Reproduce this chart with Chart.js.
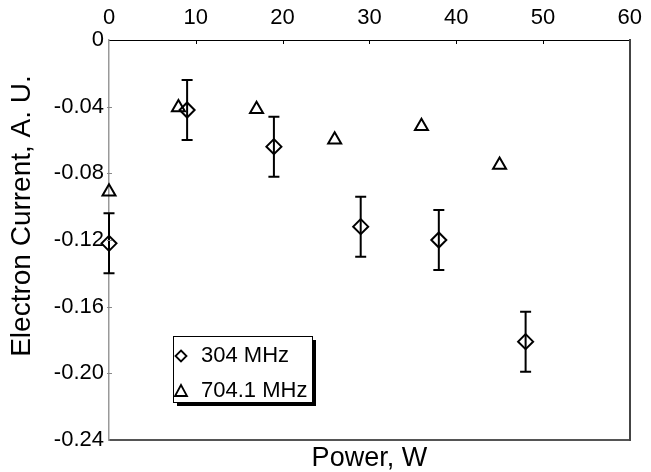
<!DOCTYPE html>
<html>
<head>
<meta charset="utf-8">
<script src="https://cdn.jsdelivr.net/npm/chart.js@4.4.1/dist/chart.umd.min.js"></script>
<style>
  html, body { margin: 0; padding: 0; background: #ffffff; }
  #wrap { width: 651px; height: 472px; }
</style>
</head>
<body>
<div id="wrap"><canvas id="c" width="651" height="472"></canvas></div>
<script>
// ---- data ----
const power304 = [0, 9, 19, 29, 38, 48];
const current304 = [-0.122, -0.042, -0.064, -0.112, -0.120, -0.181];
const error304 = [0.018, 0.018, 0.018, 0.018, 0.018, 0.018];

const power704 = [0, 8, 17, 26, 36, 45];
const current704 = [-0.091, -0.0405, -0.0416, -0.0598, -0.0518, -0.075];

const xTickValues = [0, 10, 20, 30, 40, 50, 60];
const yTickValues = [0, -0.04, -0.08, -0.12, -0.16, -0.20, -0.24];
const yTickLabels = ['0', '-0.04', '-0.08', '-0.12', '-0.16', '-0.20', '-0.24'];

const seriesLabels = ['304 MHz', '704.1 MHz'];
const xTitle = 'Power, W';
const yTitle = 'Electron Current, A. U.';

const FONT = "'Liberation Sans', Arial, Helvetica, sans-serif";
Chart.defaults.font.family = FONT;
Chart.defaults.color = '#000';

const pts304 = power304.map((p, i) => ({ x: p, y: current304[i] }));
const pts704 = power704.map((p, i) => ({ x: p, y: current704[i] }));

// error bars
const errorBarPlugin = {
  id: 'errorBars',
  afterDatasetsDraw(chart) {
    const ctx = chart.ctx;
    const xs = chart.scales.x, ys = chart.scales.y;
    ctx.save();
    ctx.strokeStyle = '#000';
    ctx.lineWidth = 2;
    power304.forEach((p, i) => {
      const px = xs.getPixelForValue(p);
      const yTop = ys.getPixelForValue(current304[i] + error304[i]);
      const yBot = ys.getPixelForValue(current304[i] - error304[i]);
      const cap = 5.5;
      ctx.beginPath();
      ctx.moveTo(px, yTop); ctx.lineTo(px, yBot);
      ctx.moveTo(px - cap, yTop); ctx.lineTo(px + cap, yTop);
      ctx.moveTo(px - cap, yBot); ctx.lineTo(px + cap, yBot);
      ctx.stroke();
    });
    ctx.restore();
  }
};

// inner tick marks + y axis title
const axisExtrasPlugin = {
  id: 'axisExtras',
  afterDraw(chart) {
    const ctx = chart.ctx;
    const xs = chart.scales.x, ys = chart.scales.y;
    const a = chart.chartArea;
    ctx.save();
    ctx.lineWidth = 1;
    ctx.strokeStyle = '#000';
    ctx.beginPath();
    xTickValues.forEach(v => {
      if (v === xs.min || v === xs.max) return;
      const px = Math.round(xs.getPixelForValue(v)) + 0.5;
      ctx.moveTo(px, a.top); ctx.lineTo(px, a.top + 4);
    });
    ctx.stroke();
    ctx.strokeStyle = '#888';
    ctx.beginPath();
    yTickValues.forEach(v => {
      if (v === ys.min || v === ys.max) return;
      const py = Math.round(ys.getPixelForValue(v)) + 0.5;
      ctx.moveTo(a.left - 2, py); ctx.lineTo(a.left + 3, py);
    });
    ctx.stroke();

    // y-axis title (sits a little above the middle of the axis, as in the reference)
    ctx.translate(22, (a.top + a.bottom) / 2 - 24);
    ctx.rotate(-Math.PI / 2);
    ctx.font = '28px ' + FONT;
    ctx.fillStyle = '#000';
    ctx.textAlign = 'center';
    ctx.textBaseline = 'middle';
    ctx.fillText(yTitle, 0, 0);
    ctx.restore();
  }
};

// boxed legend with shadow
const boxLegendPlugin = {
  id: 'boxLegend',
  afterDraw(chart) {
    const ctx = chart.ctx;
    const a = chart.chartArea;
    const bx = a.left + 64, by = a.bottom - 104, bw = 139, bh = 66;
    ctx.save();
    ctx.fillStyle = '#000';
    ctx.fillRect(bx + 4, by + 4, bw, bh);
    ctx.fillStyle = '#fff';
    ctx.fillRect(bx, by, bw, bh);
    ctx.strokeStyle = '#000';
    ctx.lineWidth = 1;
    ctx.strokeRect(bx + 0.5, by + 0.5, bw, bh);

    ctx.font = '22px ' + FONT;
    ctx.fillStyle = '#000';
    ctx.textBaseline = 'middle';
    ctx.textAlign = 'left';
    const mx = bx + 8, tx = bx + 28;
    const r1 = by + 20, r2 = by + 55;
    ctx.lineWidth = 1.8;
    // diamond
    ctx.beginPath();
    ctx.moveTo(mx, r1 - 5.5); ctx.lineTo(mx + 5.5, r1); ctx.lineTo(mx, r1 + 5.5); ctx.lineTo(mx - 5.5, r1); ctx.closePath();
    ctx.stroke();
    // triangle
    ctx.beginPath();
    ctx.moveTo(mx, r2 - 6); ctx.lineTo(mx + 6, r2 + 5); ctx.lineTo(mx - 6, r2 + 5); ctx.closePath();
    ctx.stroke();
    ctx.fillText(chart.data.datasets[0].label, tx, r1);
    ctx.fillText(chart.data.datasets[1].label, tx, r2);
    ctx.restore();
  }
};

new Chart(document.getElementById('c'), {
  type: 'scatter',
  data: {
    datasets: [
      {
        label: seriesLabels[0],
        data: pts304,
        pointStyle: 'rectRot',
        pointRadius: 7.5,
        pointHoverRadius: 7.5,
        pointBorderWidth: 2,
        borderColor: '#000',
        backgroundColor: 'rgba(0,0,0,0)',
        clip: false
      },
      {
        label: seriesLabels[1],
        data: pts704,
        pointStyle: 'triangle',
        pointRadius: 7.5,
        pointHoverRadius: 7.5,
        pointBorderWidth: 2,
        borderColor: '#000',
        backgroundColor: 'rgba(0,0,0,0)',
        clip: false
      }
    ]
  },
  options: {
    responsive: false,
    animation: false,
    events: [],
    layout: { padding: 0 },
    plugins: { legend: { display: false }, tooltip: { enabled: false } },
    scales: {
      x: {
        type: 'linear', position: 'top', min: 0, max: 60,
        afterBuildTicks: s => { s.ticks = xTickValues.map(v => ({ value: v })); },
        ticks: { font: { size: 22 }, color: '#000', padding: 9 },
        grid: { display: false, drawTicks: false },
        border: { display: true, color: '#000', width: 1 },
        afterFit: s => { s.height = 40; }
      },
      xb: {
        type: 'linear', position: 'bottom', min: 0, max: 60,
        ticks: { display: false },
        grid: { display: false, drawTicks: false },
        border: { display: true, color: '#555', width: 2 },
        title: { display: true, text: xTitle, font: { size: 27 }, color: '#000', padding: { top: 0, bottom: -3 } },
        afterFit: s => { s.height = 32; }
      },
      y: {
        type: 'linear', position: 'left', min: -0.24, max: 0,
        afterBuildTicks: s => { s.ticks = yTickValues.map(v => ({ value: v })); },
        ticks: { font: { size: 22 }, color: '#000', padding: 5,
                 callback: (v, i) => yTickLabels[i] },
        grid: { display: false, drawTicks: false },
        border: { display: true, color: '#999', width: 1.5 },
        title: { display: false },
        afterFit: s => { s.width = 109; }
      },
      yr: {
        type: 'linear', position: 'right', min: -0.24, max: 0,
        ticks: { display: false },
        grid: { display: false, drawTicks: false },
        border: { display: true, color: '#444', width: 2 },
        afterFit: s => { s.width = 14; }
      }
    }
  },
  plugins: [errorBarPlugin, axisExtrasPlugin, boxLegendPlugin]
});
</script>
</body>
</html>
